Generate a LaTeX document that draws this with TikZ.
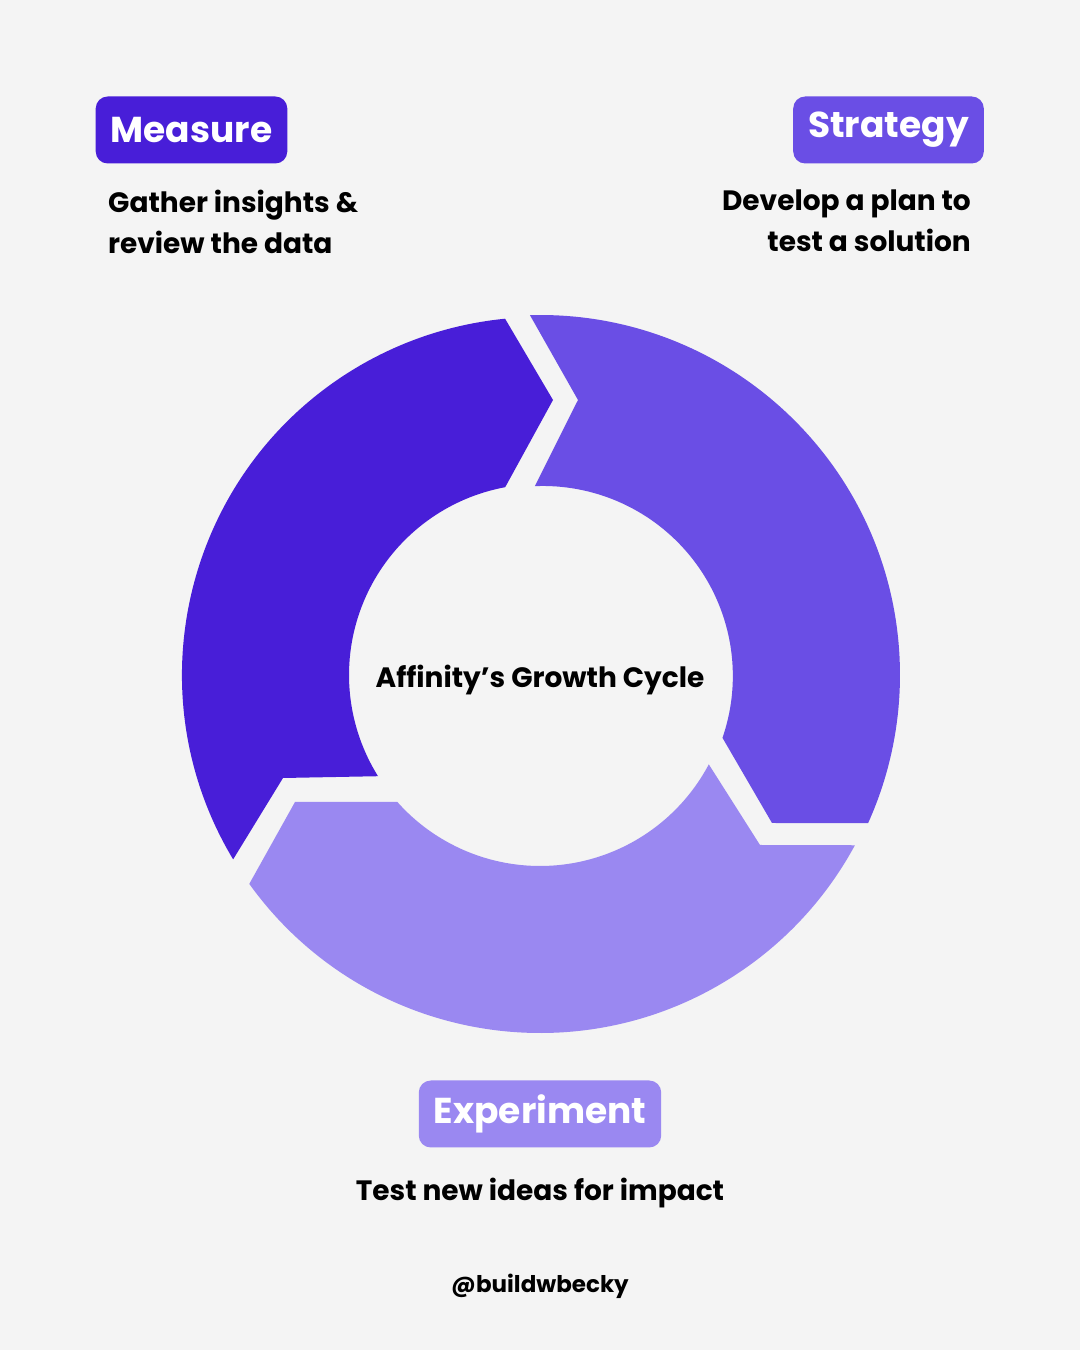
\documentclass[tikz,border=0pt]{standalone}
\usepackage{fontspec}
\setmainfont{Poppins}[UprightFont=* Bold]
\usetikzlibrary{calc}
\definecolor{bg}{HTML}{F4F4F4}
\definecolor{cA}{HTML}{481ED8}
\definecolor{cB}{HTML}{6A4EE5}
\definecolor{cC}{HTML}{9A88F1}
\tikzset{
 tag/.style={rounded corners=12pt,text=white,font=\fontsize{36}{40}\selectfont,minimum height=67pt,inner xsep=15pt},
 desc/.style={font=\fontsize{28}{41}\selectfont,text=black},
}
\begin{document}
\begin{tikzpicture}[x=1pt,y=1pt]
\fill[bg] (0,0) rectangle (1080,1350);
\useasboundingbox (0,0) rectangle (1080,1350);
\coordinate (c) at (540,675);
% Measure segment
\fill[cA] ([shift={(211:358)}]c) arc[start angle=211,end angle=95.6,radius=358]
 -- (553,950) -- ([shift={(100.5:191)}]c) arc[start angle=100.5,end angle=212,radius=191]
 -- (283,572) -- cycle;
% Strategy segment
\fill[cB] ([shift={(91.6:360)}]c) arc[start angle=91.6,end angle=-24.3,radius=360]
 -- (772,527) -- ([shift={(-19:193)}]c) arc[start angle=-19,end angle=92.4,radius=190]
 -- (578,950) -- cycle;
% Experiment segment
\fill[cC] ([shift={(-28.4:358)}]c) -- (760,505) -- ([shift={(-27.9:191)}]c)
 arc[start angle=-27.9,end angle=-138.4,radius=191]
 -- (295,548) -- ([shift={(-144.3:358)}]c) arc[start angle=-144.3,end angle=-28.4,radius=358] -- cycle;
\node[font=\fontsize{28}{34}\selectfont] (center) at (540,670) {Affinity’s Growth Cycle};
\node[tag,fill=cA] (measure) at (191.5,1220) {Measure};
\node[tag,fill=cB] (strategy) at (888.5,1220) {Strategy};
\node[tag,fill=cC] (experiment) at (540,236) {Experiment};
\node[desc,align=left,anchor=north west,inner sep=0pt] (mdesc) at (108,1160) {Gather insights \&\\review the data};
\node[desc,align=right,anchor=north east,inner sep=0pt] (sdesc) at (971,1160) {Develop a plan to\\test a solution};
\node[desc] (edesc) at (540,157) {Test new ideas for impact};
\node[font=\fontsize{23}{28}\selectfont] (handle) at (540,64) {@buildwbecky};
\end{tikzpicture}
\end{document}
